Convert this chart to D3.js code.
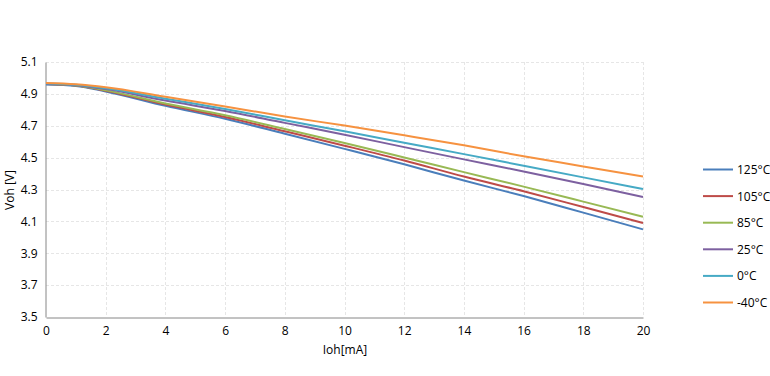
<!DOCTYPE html>
<html>
<head>
<meta charset="utf-8">
<script src="https://cdn.jsdelivr.net/npm/d3@7"></script>
<style>
  body { margin: 0; background: #fff; }
  svg text { font-family: "Open Sans", "DejaVu Sans", sans-serif; fill: #000; }
</style>
</head>
<body>
<div id="grafico"></div>
<script>
// Dados
const corrente = [0, 1, 2, 4, 6, 8, 10, 12, 14, 16, 18, 20];
const series = ['125°C', '105°C', '85°C', '25°C', '0°C', '-40°C'];
const v125 = [4.959, 4.950, 4.915, 4.825, 4.744, 4.650, 4.555, 4.458, 4.356, 4.259, 4.155, 4.050];
const v105 = [4.962, 4.952, 4.920, 4.833, 4.755, 4.665, 4.575, 4.482, 4.381, 4.289, 4.190, 4.090];
const v85 = [4.962, 4.952, 4.922, 4.840, 4.766, 4.680, 4.592, 4.501, 4.409, 4.318, 4.224, 4.129];
const v25 = [4.962, 4.954, 4.930, 4.858, 4.793, 4.718, 4.644, 4.566, 4.489, 4.413, 4.335, 4.253];
const v0 = [4.965, 4.957, 4.935, 4.870, 4.805, 4.734, 4.665, 4.593, 4.522, 4.449, 4.376, 4.303];
const vMenos40 = [4.968, 4.960, 4.942, 4.882, 4.821, 4.758, 4.701, 4.640, 4.577, 4.508, 4.445, 4.381];
const xTicks = [0, 2, 4, 6, 8, 10, 12, 14, 16, 18, 20];
const yTicks = [3.5, 3.7, 3.9, 4.1, 4.3, 4.5, 4.7, 4.9, 5.1];
const cores = ['#4A7EBB', '#BE4B48', '#98B954', '#7D60A0', '#46AAC5', '#F69240'];

const valores = [v125, v105, v85, v25, v0, vMenos40];

const largura = 770;
const altura = 376;
const area = { left: 46, right: 643, top: 62, bottom: 317 };

const svg = d3
  .select('#grafico')
  .append('svg')
  .attr('width', largura)
  .attr('height', altura);

const x = d3.scaleLinear().domain([0, 20]).range([area.left, area.right]);
const y = d3.scaleLinear().domain([3.5, 5.1]).range([area.bottom, area.top]);

// Grade
svg
  .append('g')
  .selectAll('line')
  .data(xTicks.slice(1))
  .enter()
  .append('line')
  .attr('x1', (d) => Math.round(x(d)) + 0.5)
  .attr('x2', (d) => Math.round(x(d)) + 0.5)
  .attr('y1', area.top)
  .attr('y2', area.bottom)
  .attr('stroke', '#e6e6e6')
  .attr('stroke-dasharray', '3,2');

svg
  .append('g')
  .selectAll('line')
  .data(yTicks.slice(1))
  .enter()
  .append('line')
  .attr('x1', area.left)
  .attr('x2', area.right)
  .attr('y1', (d) => Math.round(y(d)) + 0.5)
  .attr('y2', (d) => Math.round(y(d)) + 0.5)
  .attr('stroke', '#e6e6e6')
  .attr('stroke-dasharray', '3,2');

// Eixos
const eixoX = svg
  .append('g')
  .attr('transform', `translate(0,${area.bottom + 0.5})`)
  .call(d3.axisBottom(x).tickValues(xTicks).tickSize(0).tickPadding(9).tickFormat(d3.format('d')));
eixoX.select('.domain').attr('stroke', '#868686');
eixoX.selectAll('text').attr('font-size', 12);

const eixoY = svg
  .append('g')
  .attr('transform', `translate(${area.left - 0.5},0)`)
  .call(d3.axisLeft(y).tickValues(yTicks).tickSize(0).tickPadding(8).tickFormat(d3.format('.1f')));
eixoY.select('.domain').attr('stroke', '#868686');
eixoY.selectAll('text').attr('font-size', 12);

// Linhas
const linha = d3
  .line()
  .x((d, i) => x(corrente[i]))
  .y((d) => y(d))
  .curve(d3.curveMonotoneX);

svg
  .selectAll('.serie')
  .data(valores)
  .enter()
  .append('path')
  .attr('class', 'serie')
  .attr('fill', 'none')
  .attr('stroke', (d, i) => cores[i])
  .attr('stroke-width', 2)
  .attr('d', linha);

// Títulos dos eixos
svg
  .append('text')
  .attr('x', 345)
  .attr('y', 354)
  .attr('text-anchor', 'middle')
  .attr('font-size', 12)
  .text('Ioh[mA]');

svg
  .append('text')
  .attr('transform', 'translate(14,190) rotate(-90)')
  .attr('text-anchor', 'middle')
  .attr('font-size', 12)
  .text('Voh [V]');

// Legenda
const legenda = svg
  .selectAll('.legenda')
  .data(series)
  .enter()
  .append('g')
  .attr('class', 'legenda')
  .attr('transform', (d, i) => `translate(703,${169.5 + i * 26.6})`);

legenda
  .append('line')
  .attr('x1', 0)
  .attr('x2', 30)
  .attr('stroke', (d, i) => cores[i])
  .attr('stroke-width', 2);

legenda
  .append('text')
  .attr('x', 34)
  .attr('y', 4.5)
  .attr('font-size', 12)
  .text((d) => d);
</script>
</body>
</html>
